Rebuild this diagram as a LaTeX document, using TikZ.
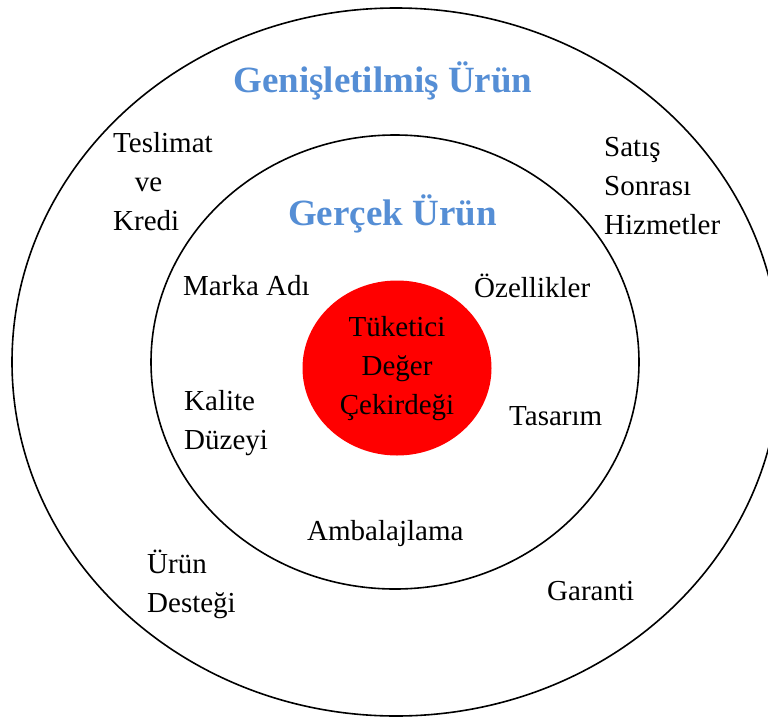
\documentclass[tikz,border=0pt]{standalone}
\usepackage{fontspec}
\setmainfont{Liberation Serif}
\definecolor{titleblue}{HTML}{558ED5}
\tikzset{
  lbl/.style={inner sep=0pt, font=\fontsize{29}{39}\selectfont},
  ttl/.style={inner sep=0pt, font=\fontsize{37}{44}\selectfont\bfseries, text=titleblue},
  ring/.style={line width=1.6pt}
}

\begin{document}
\begin{tikzpicture}[x=1pt, y=-1pt]
			%%%%% START %%%%%
			\useasboundingbox (0,0) rectangle (768,718);
			\clip (0,0) rectangle (768,718);
			
			% rings
			\draw[ring] (396,362) ellipse [x radius=384pt, y radius=354pt];
			\draw[ring] (395,362) ellipse [x radius=244pt, y radius=227pt];
			\fill[red] (397,368) ellipse [x radius=94.5pt, y radius=87.5pt];
			
			% titles
			\node[ttl, anchor=base] (genis) at (383,92) {Genişletilmiş Ürün};
			\node[ttl, anchor=base] (gercek) at (392.5,225) {Gerçek Ürün};
			
			% outer ring
			\node[lbl, anchor=north west, align=left] (teslimat) at (113,132) {Teslimat\\\hspace*{0.75em}ve\\Kredi};
			\node[lbl, anchor=north west, align=left] (satis) at (604,137) {Satış\\Sonrası\\Hizmetler};
			\node[lbl, anchor=north west, align=left] (urun) at (147,550) {Ürün\\Desteği};
			\node[lbl, anchor=base west] (garanti) at (547,600) {Garanti};
			
			% inner ring
			\node[lbl, anchor=base west] (marka) at (183,295) {Marka Adı};
			\node[lbl, anchor=base west] (ozellik) at (474,297) {Özellikler};
			\node[lbl, anchor=north west, align=left] (kalite) at (184,390) {Kalite\\Düzeyi};
			\node[lbl, anchor=base west] (tasarim) at (509,425) {Tasarım};
			\node[lbl, anchor=base west] (ambalaj) at (307,540) {Ambalajlama};
			
			% core
			\node[lbl, anchor=north, align=center] (cekirdek) at (397,316) {Tüketici\\Değer\\Çekirdeği};
			
			%%%%% END %%%%%
\end{tikzpicture}
\end{document}
